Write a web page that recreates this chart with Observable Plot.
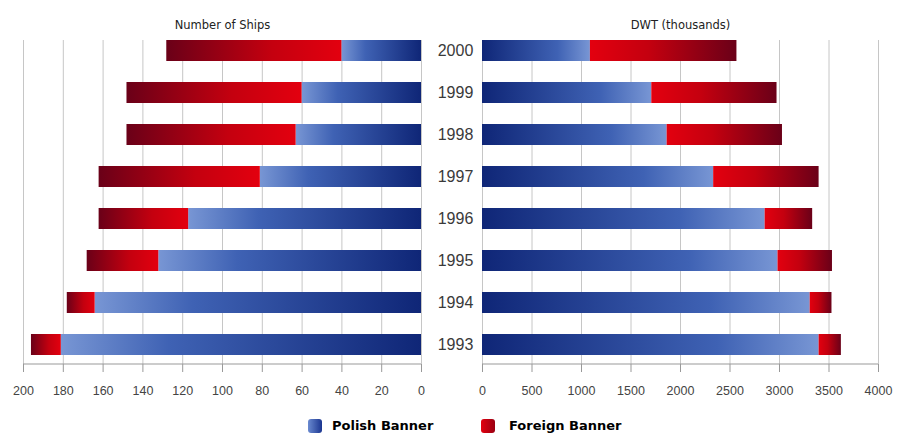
<!DOCTYPE html>
<html><head><meta charset="utf-8">
<script src="https://cdn.jsdelivr.net/npm/d3@7"></script>
<script src="https://cdn.jsdelivr.net/npm/@observablehq/plot@0.6"></script>
<style>
body{margin:0;background:#fff;}
#wrap{position:relative;width:900px;height:445px;overflow:hidden;background:#fff;}
#left{position:absolute;left:0;top:0;}
#right{position:absolute;left:430px;top:0;}
#wrap g[aria-label="x-axis tick"]{stroke:#999;}
.sw{position:absolute;width:14px;height:14px;border-radius:3px;top:419px;}
.lt{position:absolute;top:418px;font:bold 13px "DejaVu Sans",Verdana,sans-serif;color:#000;line-height:16px;white-space:nowrap;}
</style></head>
<body>
<div id="wrap">
  <div id="left"></div>
  <div id="right"></div>
  <div class="sw" style="left:308px;background:linear-gradient(to right,#6a8ad0,#1a3590);"></div>
  <div class="lt" style="left:332px;">Polish Banner</div>
  <div class="sw" style="left:481px;background:linear-gradient(to right,#e2000f,#9a0012);"></div>
  <div class="lt" style="left:509px;">Foreign Banner</div>
</div>
<script>
const years = ["2000","1999","1998","1997","1996","1995","1994","1993"];
const shipsPolish = [40,60,63,81,117,132,164,181];
const shipsForeign = [88,88,85,81,45,36,14,15];
const dwtPolish = [1090,1710,1865,2335,2855,2985,3310,3400];
const dwtForeign = [1480,1265,1165,1065,480,550,220,225];
const shipTicks = [0,20,40,60,80,100,120,140,160,180,200];
const dwtTicks = [0,500,1000,1500,2000,2500,3000,3500,4000];

function rows(p, f) {
  return years.map((y, i) => ({year: y, polish: p[i], total: p[i] + f[i]}));
}
const LIGHT = "#7896d4", MID = "#3f62b4", DARK = "#0f2677";
const BRIGHT = "#e3000f", DEEP = "#6a0018";

function gradDefs() {
  const defs = d3.create("svg:defs");
  const mk = (id, stops) => {
    const g = defs.append("linearGradient").attr("id", id).attr("x1", 0).attr("x2", 1).attr("y1", 0).attr("y2", 0);
    stops.forEach(([o, c]) => g.append("stop").attr("offset", o).attr("stop-color", c));
  };
  mk("blueL", [[0, LIGHT], [0.3, MID], [1, DARK]]);
  mk("blueR", [[0, DARK], [0.7, MID], [1, LIGHT]]);
  mk("redL", [[0, DEEP], [0.6, "#c4000f"], [1, BRIGHT]]);
  mk("redR", [[0, BRIGHT], [0.4, "#c4000f"], [1, DEEP]]);
  return defs.node();
}
function baseLine(index, scales, values, dim) {
  const y = dim.height - dim.marginBottom;
  return d3.create("svg:line")
    .attr("x1", dim.marginLeft).attr("x2", dim.width - dim.marginRight)
    .attr("y1", y).attr("y2", y)
    .attr("stroke", "#999").attr("stroke-width", 1).node();
}
const yScale = {domain: years, paddingInner: 0.5, paddingOuter: 0.055, align: 0, axis: null};
const common = {height: 405, marginTop: 40, marginBottom: 41,
  style: {fontFamily: '"Liberation Sans", Arial, sans-serif', fontSize: "12.5px", color: "#444", background: "#fff"}};

const ships = rows(shipsPolish, shipsForeign);
const left = Plot.plot({
  ...common,
  width: 430, marginLeft: 23, marginRight: 9,
  x: {domain: [0, 200], reverse: true},
  y: yScale,
  marks: [
    gradDefs,
    Plot.gridX(shipTicks, {stroke: "#c6c6c6", strokeOpacity: 1}),
    Plot.barX(ships, {y: "year", x1: 0, x2: "polish", fill: "url(#blueL)"}),
    Plot.barX(ships, {y: "year", x1: "polish", x2: "total", fill: "url(#redL)"}),
    baseLine,
    Plot.axisX(shipTicks, {tickSize: 8, tickPadding: 14, tickFormat: d => String(d), fontSize: 12.5}),
    Plot.text(["Number of Ships"], {frameAnchor: "top", dy: -20, fontSize: 11.5, fontFamily: '"DejaVu Sans", Verdana, sans-serif', fill: "#222"})
  ]
});
document.getElementById("left").append(left);

const dwt = rows(dwtPolish, dwtForeign);
const right = Plot.plot({
  ...common,
  width: 470, marginLeft: 52, marginRight: 22,
  x: {domain: [0, 4000]},
  y: yScale,
  marks: [
    gradDefs,
    Plot.gridX(dwtTicks, {stroke: "#c6c6c6", strokeOpacity: 1}),
    Plot.barX(dwt, {y: "year", x1: 0, x2: "polish", fill: "url(#blueR)"}),
    Plot.barX(dwt, {y: "year", x1: "polish", x2: "total", fill: "url(#redR)"}),
    baseLine,
    Plot.axisX(dwtTicks, {tickSize: 8, tickPadding: 14, tickFormat: d => String(d), fontSize: 12.5}),
    Plot.text(years, {y: d => d, text: d => d, frameAnchor: "left", dx: -27, textAnchor: "middle", fontSize: 16, fill: "#3a3a3a"}),
    Plot.text(["DWT (thousands)"], {frameAnchor: "top", dy: -20, fontSize: 11.5, fontFamily: '"DejaVu Sans", Verdana, sans-serif', fill: "#222"})
  ]
});
document.getElementById("right").append(right);
</script>
</body></html>
